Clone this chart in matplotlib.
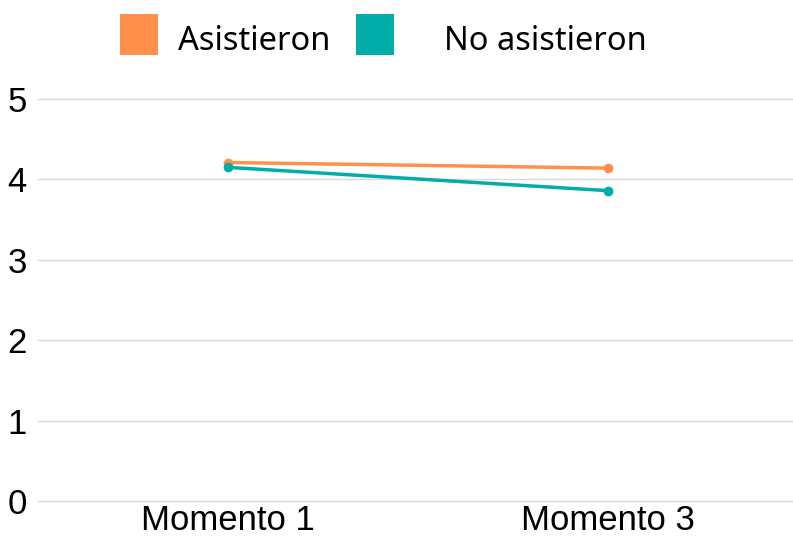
import matplotlib
matplotlib.use("Agg")
import matplotlib.pyplot as plt
from matplotlib.patches import Rectangle

# data
momentos = ["Momento 1", "Momento 3"]
asistieron = [4.21, 4.14]
no_asistieron = [4.15, 3.86]
series_names = ["Asistieron", "No asistieron"]
colores = ["#ff914d", "#00ada9"]

W, H = 793, 536
fig = plt.figure(figsize=(W/100, H/100), dpi=100)
ax = fig.add_axes([38/W, 35/H, 1 - 38/W, (501-99)/H])

x = range(len(momentos))
for vals, c in zip([asistieron, no_asistieron], colores):
    ax.plot(x, vals, color=c, lw=2.5, marker="o", ms=6, solid_capstyle="round", zorder=3)

ax.set_ylim(0, 5)
ax.set_xlim(-0.5, 1.487)
ax.set_yticks(range(6))
ax.set_xticks(list(x))
ax.set_xticklabels(momentos)
ax.grid(axis="y", color="#d9d9d9", lw=1)
for gl in ax.get_ygridlines():
    gl.set_clip_on(False)
ax.set_axisbelow(True)
for s in ax.spines.values():
    s.set_visible(False)
ax.tick_params(length=0, labelsize=25, pad=2)
ax.tick_params(axis="y", pad=8)
for lab in ax.get_xticklabels() + ax.get_yticklabels():
    lab.set_fontfamily("Liberation Sans")

# legend drawn by hand (uneven spacing like the original)
sq = [(120, 14), (356, 14)]
tx = [178, 444]
for (sx, sy), t, name, c in zip(sq, tx, series_names, colores):
    fig.add_artist(Rectangle((sx/W, 1 - (sy+41)/H), 38/W, 41/H,
                             transform=fig.transFigure, color=c, lw=0))
    fig.text(t/W, 1 - 50/H, name, fontsize=23.5, family="Noto Sans",
             va="baseline", ha="left")

fig.savefig("out.png", dpi=100)
